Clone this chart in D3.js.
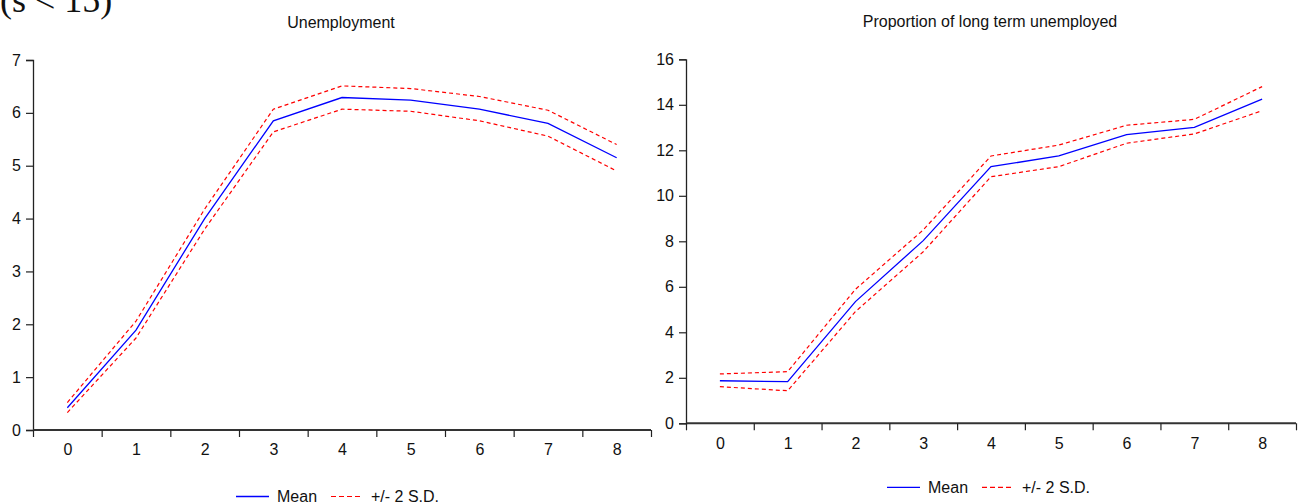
<!DOCTYPE html>
<html>
<head>
<meta charset="utf-8">
<script src="https://cdn.jsdelivr.net/npm/d3@7/dist/d3.min.js"></script>
<style>
  html, body { margin: 0; padding: 0; background: #fff; }
  svg { display: block; }
  text { font-family: "Liberation Sans", Arial, Helvetica, sans-serif; fill: #111; }
</style>
</head>
<body>
<svg id="chart" width="1299" height="504"></svg>
<script>
// Horizon (periods ahead)
const horizons = [0, 1, 2, 3, 4, 5, 6, 7, 8];

// Unemployment: mean and +/- 2 S.D. bands
const unempMean  = [0.42, 1.89, 4.00, 5.85, 6.29, 6.24, 6.07, 5.80, 5.15];
const unempUpper = [0.52, 2.06, 4.18, 6.07, 6.51, 6.46, 6.31, 6.05, 5.40];
const unempLower = [0.33, 1.74, 3.80, 5.64, 6.07, 6.03, 5.85, 5.56, 4.90];

// Proportion of long term unemployed: mean and +/- 2 S.D. bands
const ltuMean  = [1.87, 1.83, 5.35, 8.03, 11.28, 11.75, 12.69, 13.01, 14.25];
const ltuUpper = [2.17, 2.27, 5.89, 8.50, 11.75, 12.23, 13.10, 13.36, 14.80];
const ltuLower = [1.61, 1.43, 4.91, 7.54, 10.84, 11.28, 12.31, 12.72, 13.74];

const unempTicks = [0, 1, 2, 3, 4, 5, 6, 7];
const ltuTicks = [0, 2, 4, 6, 8, 10, 12, 14, 16];

const svg = d3.select("#chart");

// Caption at the top left (runs past the top edge)
svg.append("text")
  .attr("x", 0).attr("y", 12)
  .style("font-family", "'Liberation Serif', 'Times New Roman', serif")
  .style("font-size", "36px")
  .text("(s < 15)");

function panel(opts) {
  const g = svg.append("g");
  const x = d3.scaleLinear().domain([-0.5, horizons.length - 0.5]).range([opts.x0, opts.x1]);
  const y = d3.scaleLinear().domain(opts.yDomain).range([opts.yBottom, opts.yTop]);

  // Title
  g.append("text")
    .attr("x", opts.titleX).attr("y", opts.titleY)
    .attr("text-anchor", "middle")
    .style("font-size", "16px")
    .text(opts.title);

  // Y axis
  const yAxis = g.append("g")
    .attr("transform", `translate(${opts.x0},0)`)
    .call(d3.axisLeft(y).tickValues(opts.yTicks).tickSize(7).tickPadding(5).tickFormat(d3.format("d")));
  yAxis.select(".domain").attr("stroke", "#222").attr("stroke-width", 1.3);
  yAxis.selectAll(".tick line").attr("stroke", "#222").attr("stroke-width", 1.2);
  yAxis.selectAll(".tick text").style("font-size", "16px").attr("fill", "#111").attr("font-family", null);

  // X axis: tick marks on band boundaries, labels at band centres
  const bounds = d3.range(-0.5, horizons.length, 1);
  const xTicks = g.append("g")
    .attr("transform", `translate(0,${opts.yBottom})`)
    .call(d3.axisBottom(x).tickValues(bounds).tickSize(7).tickFormat(""));
  xTicks.select(".domain").attr("stroke", "#333").attr("stroke-width", 2).attr("d", `M${opts.x0},0H${opts.x1}`);
  xTicks.selectAll(".tick line").attr("stroke", "#222").attr("stroke-width", 1.2);

  const xLabels = g.append("g")
    .attr("transform", `translate(0,${opts.yBottom})`)
    .call(d3.axisBottom(x).tickValues(horizons).tickSize(0).tickPadding(opts.xLabelPad).tickFormat(d3.format("d")));
  xLabels.select(".domain").remove();
  xLabels.selectAll(".tick text").style("font-size", "16px").attr("fill", "#111").attr("font-family", null);

  const line = d3.line().x((d, i) => x(horizons[i])).y(d => y(d));

  g.append("path").datum(opts.upper).attr("d", line)
    .attr("fill", "none").attr("stroke", "#ff0000").attr("stroke-width", 1.2).attr("stroke-dasharray", "4,3");
  g.append("path").datum(opts.lower).attr("d", line)
    .attr("fill", "none").attr("stroke", "#ff0000").attr("stroke-width", 1.2).attr("stroke-dasharray", "4,3");
  g.append("path").datum(opts.mean).attr("d", line)
    .attr("fill", "none").attr("stroke", "#0000ff").attr("stroke-width", 1.3);

  // Legend
  const lg = g.append("g").attr("transform", `translate(${opts.legendX},${opts.legendY})`);
  lg.append("line").attr("x1", 0).attr("x2", 33).attr("y1", 0).attr("y2", 0)
    .attr("stroke", "#0000ff").attr("stroke-width", 1.3);
  lg.append("text").attr("x", 41).attr("y", 5.5).style("font-size", "16px").text("Mean");
  lg.append("line").attr("x1", 95).attr("x2", 127).attr("y1", 0).attr("y2", 0)
    .attr("stroke", "#ff0000").attr("stroke-width", 1.2).attr("stroke-dasharray", "5,3");
  lg.append("text").attr("x", 135).attr("y", 5.5).style("font-size", "16px").text("+/- 2 S.D.");
}

panel({
  title: "Unemployment", titleX: 341, titleY: 28,
  x0: 33, x1: 651, yTop: 60, yBottom: 430, yDomain: [0, 7], yTicks: unempTicks,
  mean: unempMean, upper: unempUpper, lower: unempLower,
  xLabelPad: 14, legendX: 236, legendY: 496.5
});

panel({
  title: "Proportion of long term unemployed", titleX: 990, titleY: 27,
  x0: 686, x1: 1296, yTop: 59.3, yBottom: 423.3, yDomain: [0, 16], yTicks: ltuTicks,
  mean: ltuMean, upper: ltuUpper, lower: ltuLower,
  xLabelPad: 14, legendX: 887, legendY: 487.3
});
</script>
</body>
</html>
